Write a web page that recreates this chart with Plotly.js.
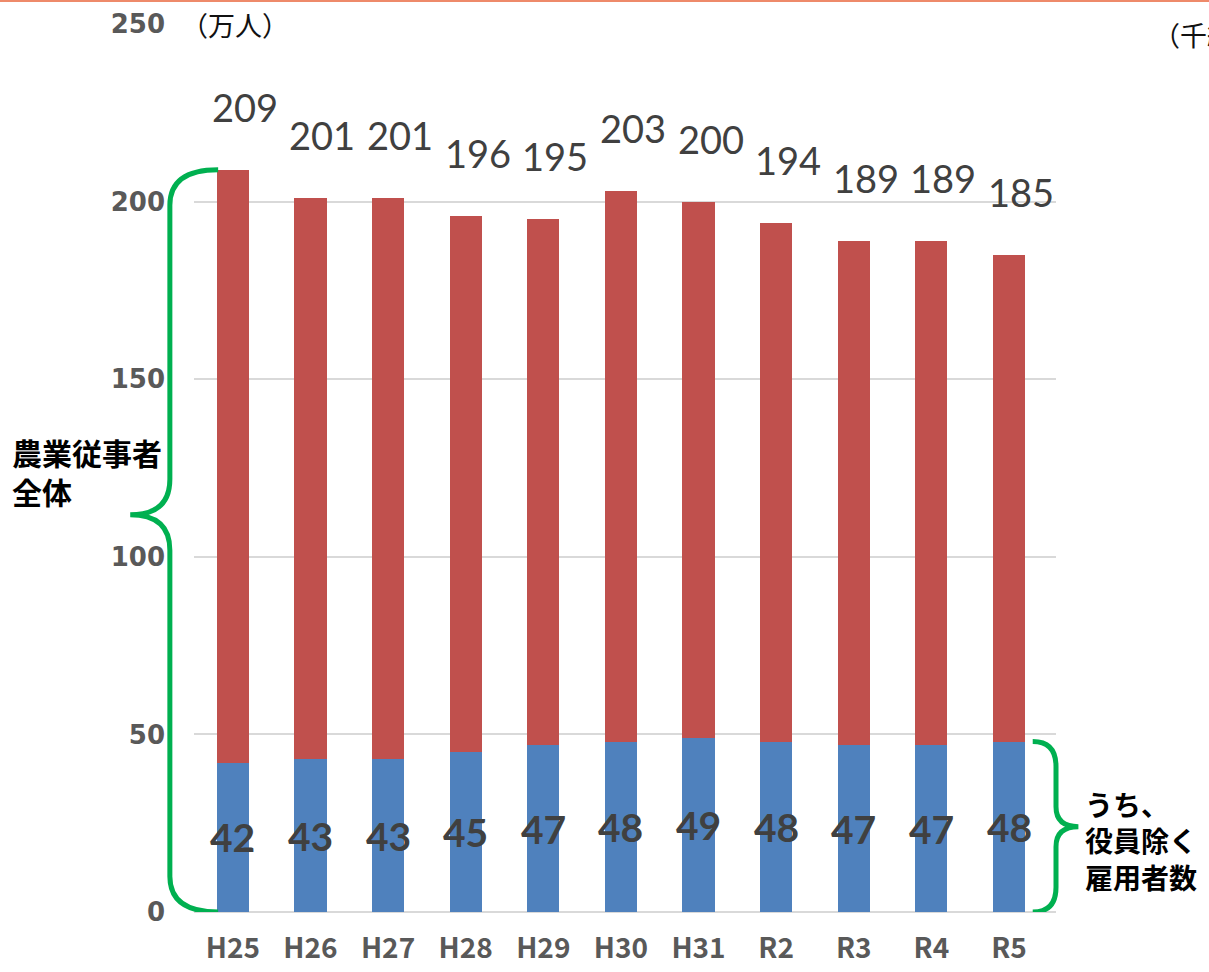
<!DOCTYPE html>
<html>
<head>
<meta charset="utf-8">
<script src="https://cdn.plot.ly/plotly-3.0.1.min.js"></script>
<style>
  html, body { margin: 0; padding: 0; background: #ffffff; overflow: hidden; }
  #chart { width: 1209px; height: 972px; }
</style>
</head>
<body>
<div id="chart"></div>
<script>
// ---- data ----
const categories = ["H25", "H26", "H27", "H28", "H29", "H30", "H31", "R2", "R3", "R4", "R5"];
const totalWorkers = [209, 201, 201, 196, 195, 203, 200, 194, 189, 189, 185];   // 農業従事者全体（万人）
const employees = [42, 43, 43, 45, 47, 48, 49, 48, 47, 47, 48];                 // うち、役員除く雇用者数（万人）
const yTicks = [0, 50, 100, 150, 200, 250];

const others = totalWorkers.map((t, i) => t - employees[i]);

const BLUE = "#4f81bd";
const RED = "#c0504d";
const GREEN = "#00b050";
const LABEL = "#404040";

const traces = [
  {
    type: "bar", name: "雇用者数", x: categories, y: employees,
    marker: { color: BLUE }, hoverinfo: "skip"
  },
  {
    type: "bar", name: "その他", x: categories, y: others,
    marker: { color: RED }, hoverinfo: "skip"
  }
];

const annotations = [];
categories.forEach((c, i) => {
  annotations.push({
    x: c, y: totalWorkers[i], xref: "x", yref: "y",
    text: String(totalWorkers[i]), showarrow: false,
    yanchor: "bottom", yshift: 38, xshift: 12,
    font: { family: "Lato, 'Open Sans', sans-serif", size: 38, color: LABEL }
  });
  annotations.push({
    x: c, y: employees[i] / 2, xref: "x", yref: "y",
    text: String(employees[i]), showarrow: false,
    yanchor: "middle",
    font: { family: "Lato, 'Open Sans', sans-serif", size: 39, color: LABEL, weight: "bold" }
  });
});

// unit & side texts
annotations.push({
  xref: "paper", yref: "paper", x: -0.017, y: 1.0, xanchor: "left", yanchor: "middle",
  text: "（万人）", showarrow: false,
  font: { family: "'Noto Sans CJK JP', sans-serif", size: 27, color: "#111111" }
});
annotations.push({
  xref: "paper", yref: "paper", x: 1.11, y: 0.988, xanchor: "left", yanchor: "middle",
  text: "（千経営体）", showarrow: false,
  font: { family: "'Noto Sans CJK JP', sans-serif", size: 27, color: "#111111" }
});
const leftTip = totalWorkers[0] * 0.535;
annotations.push({
  xref: "paper", yref: "y", x: -0.214, y: leftTip, yshift: 43, xanchor: "left", yanchor: "middle",
  text: "<b>農業従事者<br>全体</b>", align: "left", showarrow: false,
  font: { family: "'Noto Sans CJK JP', sans-serif", size: 30, color: "#000000" }
});
const lastEmp = employees[employees.length - 1];
annotations.push({
  xref: "paper", yref: "y", x: 1.031, y: lastEmp / 2, yshift: -14, xanchor: "left", yanchor: "middle",
  text: "<b>うち、<br>役員除く<br>雇用者数</b>", align: "left", showarrow: false,
  font: { family: "'Noto Sans CJK JP', sans-serif", size: 28, color: "#000000" }
});

// braces (built from the data values)
function leftBrace(top, mid) {
  const xv = -0.028, xt = -0.074, xe = 0.028, r = 10;
  return `M ${xe},${top} Q ${xv},${top} ${xv},${top - r} L ${xv},${mid + r} ` +
         `Q ${xv},${mid} ${xt},${mid} Q ${xv},${mid} ${xv},${mid - r} ` +
         `L ${xv},${r} Q ${xv},0 ${xe},0`;
}
function rightBrace(top, mid) {
  const xs = 0.973, xv = 1.0, xt = 1.026, r = 7;
  return `M ${xs},${top} Q ${xv},${top} ${xv},${top - r} L ${xv},${mid + r * 0.8} ` +
         `Q ${xv},${mid} ${xt},${mid} Q ${xv},${mid} ${xv},${mid - r * 0.8} ` +
         `L ${xv},${r} Q ${xv},0 ${xs},0`;
}
const shapes = [
  { type: "path", xref: "paper", yref: "y", path: leftBrace(totalWorkers[0], leftTip),
    line: { color: GREEN, width: 5 } },
  { type: "path", xref: "paper", yref: "y", path: rightBrace(lastEmp, lastEmp / 2),
    line: { color: GREEN, width: 5 } },
  { type: "line", xref: "paper", yref: "paper", x0: -0.3, x1: 1.3, y0: 1.0265, y1: 1.0265,
    line: { color: "#ee8a6a", width: 3 } }
];

const layout = {
  width: 1209, height: 972,
  margin: { l: 194, r: 153, t: 24, b: 60 },
  paper_bgcolor: "#ffffff", plot_bgcolor: "#ffffff",
  barmode: "stack", bargap: 0.585,
  showlegend: false,
  xaxis: {
    type: "category", showgrid: false, zeroline: false, showline: false, ticks: "",
    tickfont: { family: "'Noto Sans CJK JP', sans-serif", size: 28, color: "#595959", weight: "bold" },
    ticklabelstandoff: 17
  },
  yaxis: {
    range: [0, 250], tickvals: yTicks, ticktext: yTicks.map(String),
    showgrid: true, gridcolor: "#d9d9d9", gridwidth: 2,
    zeroline: true, zerolinecolor: "#d9d9d9", zerolinewidth: 2,
    showline: false, ticks: "",
    tickfont: { family: "'DejaVu Sans', sans-serif", size: 26, color: "#595959", weight: "bold" },
    ticklabelstandoff: 28
  },
  annotations: annotations,
  shapes: shapes
};

Plotly.newPlot("chart", traces, layout, { staticPlot: true, displayModeBar: false });
</script>
</body>
</html>
